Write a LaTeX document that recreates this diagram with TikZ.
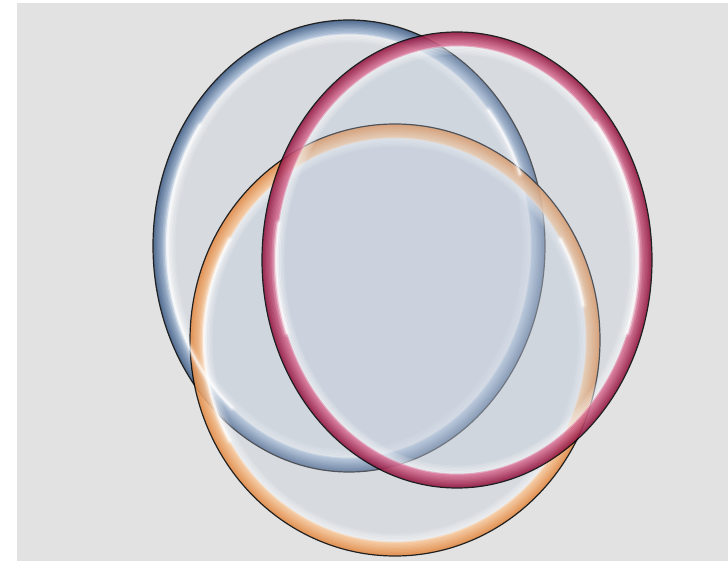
\documentclass[tikz,border=0pt]{standalone}
\definecolor{bgg}{RGB}{226,226,226}
\definecolor{fillc}{RGB}{192,203,220}
\definecolor{bluedk}{RGB}{60,90,132}
\definecolor{bluelt}{RGB}{178,198,222}
\definecolor{reddk}{RGB}{145,15,58}
\definecolor{redlt}{RGB}{225,120,155}
\definecolor{ordk}{RGB}{228,135,62}
\definecolor{orlt}{RGB}{252,205,160}
\newcommand{\ringdraw}[5]{%
  % #1 center, #2 rx, #3 ry, #4 dark, #5 light
  \fill[fillc, fill opacity=0.3] #1 ellipse [x radius=#2, y radius=#3];
  \begin{scope}[transparency group, opacity=0.85]
  \foreach \i in {0,...,9}{%
    \pgfmathsetmacro\m{100-\i*10}%
    \draw[color=#4!\m!#5, line width=2.6] #1 ellipse [x radius=#2-1.3-\i*1.3, y radius=#3-1.3-\i*1.3];
  }
  \draw[black, line width=1.2] #1 ellipse [x radius=#2, y radius=#3];
  \end{scope}
  \foreach \i in {0,...,5}{%
    \pgfmathsetmacro\op{0.35-\i*0.05}%
    \draw[white, line width=2.4, opacity=\op] #1 ellipse [x radius=#2-14.5-\i*1.4, y radius=#3-14.5-\i*1.4];
  }
}
\newcommand{\glint}[5]{%
  % #1 center, #2 rx, #3 ry, #4 start, #5 end
  \draw[white, line width=9, opacity=0.12, line cap=round] #1 ++(#4:#2 and #3) arc[start angle=#4, end angle=#5, x radius=#2, y radius=#3];
  \draw[white, line width=5, opacity=0.3, line cap=round] #1 ++(#4:#2 and #3) arc[start angle=#4, end angle=#5, x radius=#2, y radius=#3];
  \draw[white, line width=2.2, opacity=0.6, line cap=round] #1 ++(#4:#2 and #3) arc[start angle=#4, end angle=#5, x radius=#2, y radius=#3];
}
\begin{document}
\begin{tikzpicture}[x=1pt,y=-1pt]
\useasboundingbox (0,0) rectangle (728,561);
\fill[white] (0,0) rectangle (728,561);
\fill[bgg] (17,3) rectangle (728,561);
\coordinate (cb) at (349,246);
\coordinate (cr) at (457,260);
\coordinate (co) at (395,340);
\ringdraw{(cb)}{196}{226}{bluedk}{bluelt}
\ringdraw{(co)}{205}{216}{ordk}{orlt}
\ringdraw{(cr)}{195}{228}{reddk}{redlt}
% glossy highlights
\glint{(cb)}{182}{211}{130}{215}
\glint{(cb)}{182}{211}{-20}{-40}
\glint{(co)}{191}{201}{150}{210}
\glint{(co)}{191}{201}{-10}{-30}
\glint{(cr)}{181}{213}{20}{-40}
\glint{(cr)}{181}{213}{160}{190}
\end{tikzpicture}
\end{document}
